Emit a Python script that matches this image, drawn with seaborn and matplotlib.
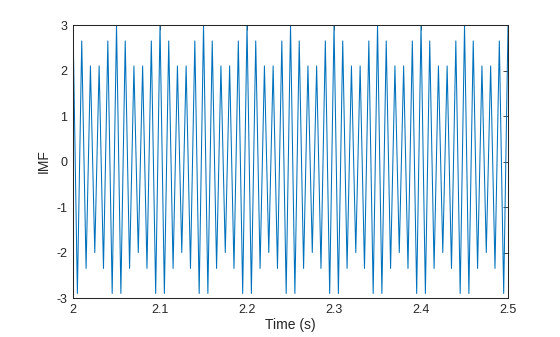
import numpy as np
import pandas as pd
import matplotlib
matplotlib.use("Agg")
import matplotlib.pyplot as plt
import seaborn as sns

# Extrema of the IMF (peaks at 2.00, 2.01, ..., 2.50 s;
# troughs at 2.005, 2.015, ..., 2.495 s)
peak_values = [
    3.0, 2.65, 2.1, 2.1, 2.65,
    3.0, 2.65, 2.1, 2.1, 2.65,
    3.0, 2.65, 2.1, 2.1, 2.65,
    3.0, 2.65, 2.1, 2.1, 2.65,
    3.0, 2.65, 2.1, 2.1, 2.65,
    3.0, 2.65, 2.1, 2.1, 2.65,
    3.0, 2.65, 2.1, 2.1, 2.65,
    3.0, 2.65, 2.1, 2.1, 2.65,
    3.0, 2.65, 2.1, 2.1, 2.65,
    3.0, 2.65, 2.1, 2.1, 2.65,
    3.0,
]
trough_values = [
    -2.9, -2.35, -2.0, -2.35, -2.9,
    -2.9, -2.35, -2.0, -2.35, -2.9,
    -2.9, -2.35, -2.0, -2.35, -2.9,
    -2.9, -2.35, -2.0, -2.35, -2.9,
    -2.9, -2.35, -2.0, -2.35, -2.9,
    -2.9, -2.35, -2.0, -2.35, -2.9,
    -2.9, -2.35, -2.0, -2.35, -2.9,
    -2.9, -2.35, -2.0, -2.35, -2.9,
    -2.9, -2.35, -2.0, -2.35, -2.9,
    -2.9, -2.35, -2.0, -2.35, -2.9,
]
peak_times = np.round(np.arange(len(peak_values)) * 0.01 + 2.0, 4)
trough_times = np.round(np.arange(len(trough_values)) * 0.01 + 2.005, 4)

xticks = [2.0, 2.1, 2.2, 2.3, 2.4, 2.5]
xticklabels = ["2", "2.1", "2.2", "2.3", "2.4", "2.5"]
yticks = [-3, -2, -1, 0, 1, 2, 3]
yticklabels = ["-3", "-2", "-1", "0", "1", "2", "3"]

df = pd.DataFrame({
    "t": np.concatenate([peak_times, trough_times]),
    "imf": np.concatenate([peak_values, trough_values]),
}).sort_values("t")

sns.set_style("white")
plt.rcParams["font.family"] = ["Liberation Sans", "DejaVu Sans"]

dark = (0.15, 0.15, 0.15)
fig = plt.figure(figsize=(5.6, 3.37), dpi=100)
ax = fig.add_axes([0.1304, 0.1157, 0.7768, 0.8101])

sns.lineplot(data=df, x="t", y="imf", ax=ax, color="#0072BD",
             linewidth=0.75, estimator=None, sort=False)

ax.set_xlim(2.0, 2.5)
ax.set_ylim(-3, 3)
ax.set_xticks(xticks)
ax.set_xticklabels(xticklabels)
ax.set_yticks(yticks)
ax.set_yticklabels(yticklabels)
ax.tick_params(direction="in", length=3.5, width=0.6, colors=dark,
               labelsize=9, top=True, right=True, pad=4)
for s in ax.spines.values():
    s.set_visible(True)
    s.set_color(dark)
    s.set_linewidth(0.75)
ax.set_xlabel("Time (s)", fontsize=10, color=dark, labelpad=2)
ax.set_ylabel("IMF", fontsize=10, color=dark, labelpad=4)

fig.savefig("out.png", dpi=100)
